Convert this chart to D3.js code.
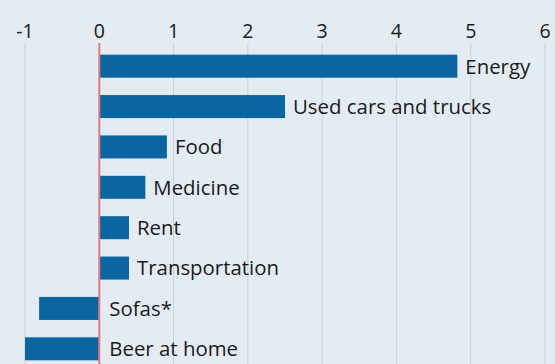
<!DOCTYPE html>
<html>
<head>
<meta charset="utf-8">
<script src="https://cdn.jsdelivr.net/npm/d3@7"></script>
<style>
  html, body { margin: 0; padding: 0; background: #e4ecf3; }
  svg { display: block; }
</style>
</head>
<body>
<svg id="chart" width="555" height="364"></svg>
<script>
// Price change by category, percentage points
const categories = ["Energy", "Used cars and trucks", "Food", "Medicine", "Rent", "Transportation", "Sofas*", "Beer at home"];
const values = [4.82, 2.5, 0.91, 0.62, 0.4, 0.4, -0.81, -1.0];
const tickValues = [-1, 0, 1, 2, 3, 4, 5, 6];
const tickLabels = ["-1", "0", "1", "2", "3", "4", "5", "6"];

const W = 555, H = 364;
const svg = d3.select("#chart");
const font = "'Open Sans', sans-serif";

svg.append("rect").attr("width", W).attr("height", H).attr("fill", "#e4ecf3");

const x = d3.scaleLinear().domain([-1, 6]).range([25, 545]);
const y = d3.scaleBand().domain(categories).range([46, 369]).paddingInner(0.43).paddingOuter(0.215);

// vertical gridlines
svg.append("g").selectAll("line")
  .data(tickValues.filter(d => d !== 0))
  .join("line")
  .attr("x1", d => x(d)).attr("x2", d => x(d))
  .attr("y1", 43).attr("y2", H)
  .attr("stroke", "#c6ced6").attr("stroke-width", 1);

// tick labels along the top
svg.append("g").selectAll("text")
  .data(tickValues)
  .join("text")
  .attr("x", d => x(d))
  .attr("y", 37.5)
  .attr("text-anchor", "middle")
  .attr("font-family", font)
  .attr("font-size", 19.5)
  .attr("fill", "#1a1a1a")
  .text((d, i) => tickLabels[i]);

// bars
svg.append("g").selectAll("rect")
  .data(categories)
  .join("rect")
  .attr("x", (d, i) => x(Math.min(0, values[i])))
  .attr("y", d => y(d))
  .attr("width", (d, i) => Math.abs(x(values[i]) - x(0)))
  .attr("height", y.bandwidth())
  .attr("fill", "#0b65a0");

// zero line
svg.append("line")
  .attr("x1", x(0)).attr("x2", x(0))
  .attr("y1", 43).attr("y2", H)
  .attr("stroke", "#e07a7c").attr("stroke-width", 2);

// category labels
svg.append("g").selectAll("text")
  .data(categories)
  .join("text")
  .attr("x", (d, i) => values[i] > 0 ? x(values[i]) + 8 : x(0) + 10)
  .attr("y", d => y(d) + y.bandwidth() / 2)
  .attr("dy", "0.36em")
  .attr("font-family", font)
  .attr("font-size", 20.4)
  .attr("fill", "#1a1a1a")
  .text(d => d);
</script>
</body>
</html>
